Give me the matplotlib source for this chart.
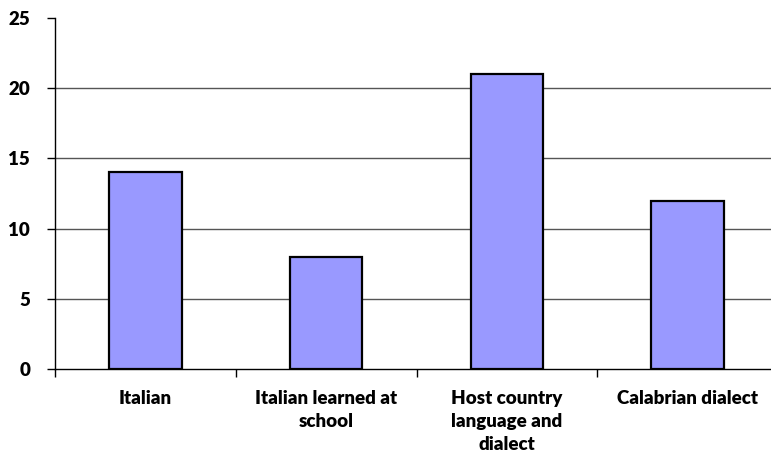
import matplotlib
matplotlib.use("Agg")
import matplotlib.pyplot as plt
import numpy as np

categories = ["Italian", "Italian learned at\nschool", "Host country\nlanguage and\ndialect", "Calabrian dialect"]
values = [14, 8, 21, 12]
yticks = [0, 5, 10, 15, 20, 25]

plt.rcParams['font.family'] = ['Lato', 'DejaVu Sans']

fig = plt.figure(figsize=(7.71, 4.57), dpi=100)
ax = fig.add_axes([55/771, 1 - 369/457, 723/771, 351/457])

x = np.arange(len(categories))
ax.bar(x, values, width=0.4, color="#9999ff", edgecolor="black", linewidth=1.6, zorder=3)

ax.set_xlim(-0.5, len(categories) - 0.5)
ax.set_ylim(0, 25)
ax.set_yticks(yticks)
ax.set_yticklabels([str(v) for v in yticks], fontsize=13.5, fontweight="heavy")
for y in yticks[1:-1]:
    ax.axhline(y, color="#555555", linewidth=1, zorder=1)

ax.set_xticks(x)
ax.set_xticklabels(categories, fontsize=13.5, fontweight="heavy", linespacing=1.45)
ax.set_xticks(np.arange(len(categories) + 1) - 0.5, minor=True)
ax.tick_params(axis="x", which="major", length=0, pad=15)
ax.tick_params(axis="x", which="minor", length=6, width=1)
ax.tick_params(axis="y", length=6, width=1, pad=12)

for s in ["top", "right"]:
    ax.spines[s].set_visible(False)
ax.spines["left"].set_linewidth(1)
ax.spines["bottom"].set_linewidth(1)

fig.savefig("out.png", dpi=100)
